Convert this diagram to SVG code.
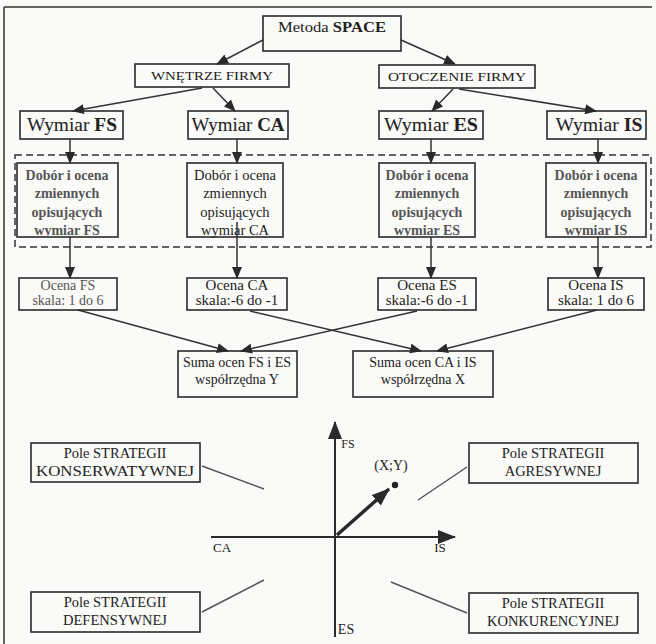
<svg xmlns="http://www.w3.org/2000/svg" width="656" height="644" viewBox="0 0 656 644">
<style>
.bg{fill:#fafaf8}
.box{fill:none;stroke:#2a2a2a;stroke-width:1.6}
.t{font-family:"Liberation Serif","Times New Roman",serif;fill:#222;text-anchor:middle}
.b{font-weight:bold}
.f{fill:#555}
.ln{stroke:#333;stroke-width:1.5;fill:none}
.gl{stroke:#555;stroke-width:1.5;fill:none}
</style>
<defs>
<marker id="ah" markerUnits="userSpaceOnUse" markerWidth="12" markerHeight="10" refX="11" refY="5" orient="auto">
<path d="M0,0 L12,5 L0,10 z" fill="#2a2a2a"/>
</marker>
<marker id="ahb" markerUnits="userSpaceOnUse" markerWidth="18" markerHeight="14" refX="17" refY="7" orient="auto">
<path d="M0,0 L18,7 L0,14 z" fill="#2a2a2a"/>
</marker>
</defs>
<rect class="bg" x="0" y="0" width="656" height="644"/>
<g id="frame">
<line x1="4" y1="7" x2="652" y2="7" stroke="#333" stroke-width="1.5"/>
<line x1="4" y1="7" x2="4" y2="644" stroke="#333" stroke-width="1.5"/>
<rect x="15" y="155" width="636" height="92" fill="none" stroke="#333" stroke-width="1.5" stroke-dasharray="7,4"/>
</g>
<g id="connectors">
<line class="ln" x1="263" y1="40" x2="217" y2="64" marker-end="url(#ah)"/>
<line class="ln" x1="401" y1="40" x2="455" y2="64" marker-end="url(#ah)"/>
<line class="ln" x1="202" y1="88" x2="73" y2="111" marker-end="url(#ah)"/>
<line class="ln" x1="213" y1="88" x2="235" y2="111" marker-end="url(#ah)"/>
<line class="ln" x1="453" y1="89" x2="432" y2="111" marker-end="url(#ah)"/>
<line class="ln" x1="459" y1="89" x2="596" y2="111" marker-end="url(#ah)"/>
<line class="ln" x1="70" y1="139" x2="70" y2="163" marker-end="url(#ah)"/>
<line class="ln" x1="237" y1="139" x2="237" y2="163" marker-end="url(#ah)"/>
<line class="ln" x1="431" y1="139" x2="431" y2="163" marker-end="url(#ah)"/>
<line class="ln" x1="598" y1="139" x2="598" y2="163" marker-end="url(#ah)"/>
<line class="ln" x1="70" y1="237" x2="70" y2="278" marker-end="url(#ah)"/>
<line class="ln" x1="237" y1="222" x2="237" y2="278" marker-end="url(#ah)"/>
<line class="ln" x1="431" y1="237" x2="431" y2="278" marker-end="url(#ah)"/>
<line class="ln" x1="598" y1="237" x2="598" y2="278" marker-end="url(#ah)"/>
<line class="ln" x1="78" y1="310" x2="228" y2="351" marker-end="url(#ah)"/>
<line class="ln" x1="250" y1="311" x2="421" y2="351" marker-end="url(#ah)"/>
<line class="ln" x1="417" y1="311" x2="241" y2="351" marker-end="url(#ah)"/>
<line class="ln" x1="597" y1="310" x2="437" y2="351" marker-end="url(#ah)"/>
<line class="gl" x1="202" y1="466" x2="264" y2="489"/>
<line class="gl" x1="467" y1="467" x2="418" y2="500"/>
<line class="gl" x1="202" y1="612" x2="264" y2="580"/>
<line class="gl" x1="467" y1="613" x2="391" y2="582"/>
</g>
<g id="metoda"><rect class="box" x="263" y="16" width="138" height="35"/><text class="t" x="332" y="32" font-size="15" textLength="108" lengthAdjust="spacingAndGlyphs">Metoda <tspan class="b">SPACE</tspan></text></g>
<g id="wnetrze"><rect class="box" x="135" y="64" width="154" height="23"/><text class="t" x="212" y="80" font-size="12.5" textLength="122" lengthAdjust="spacingAndGlyphs">WNĘTRZE FIRMY</text></g>
<g id="otoczenie"><rect class="box" x="379" y="65" width="156" height="23"/><text class="t" x="457" y="81" font-size="12.5" textLength="138" lengthAdjust="spacingAndGlyphs">OTOCZENIE FIRMY</text></g>
<g id="wymiar-fs"><rect class="box" x="20" y="111" width="103" height="28"/><text class="t" x="72" y="131" font-size="18" textLength="90" lengthAdjust="spacingAndGlyphs">Wymiar <tspan class="b">FS</tspan></text></g>
<g id="wymiar-ca"><rect class="box" x="188" y="111" width="100" height="28"/><text class="t" x="238" y="131" font-size="18" textLength="93" lengthAdjust="spacingAndGlyphs">Wymiar <tspan class="b">CA</tspan></text></g>
<g id="wymiar-es"><rect class="box" x="379" y="111" width="104" height="28"/><text class="t" x="431" y="131" font-size="18" textLength="94" lengthAdjust="spacingAndGlyphs">Wymiar <tspan class="b">ES</tspan></text></g>
<g id="wymiar-is"><rect class="box" x="547" y="111" width="99" height="28"/><text class="t" x="599" y="131" font-size="18" textLength="87" lengthAdjust="spacingAndGlyphs">Wymiar <tspan class="b">IS</tspan></text></g>
<g id="dobor-fs"><rect class="box" x="17" y="163" width="101" height="74"/>
<text class="t b f" font-size="14"><tspan x="67" y="180">Dobór i ocena</tspan><tspan x="67" y="198">zmiennych</tspan><tspan x="67" y="217">opisujących</tspan><tspan x="67" y="235">wymiar FS</tspan></text></g>
<g id="dobor-ca"><rect class="box" x="187" y="163" width="96" height="74"/>
<text class="t" font-size="14.5"><tspan x="235" y="180">Dobór i ocena</tspan><tspan x="235" y="198">zmiennych</tspan><tspan x="235" y="217">opisujących</tspan><tspan x="235" y="235">wymiar CA</tspan></text></g>
<g id="dobor-es"><rect class="box" x="379" y="163" width="96" height="74"/>
<text class="t b f" font-size="14"><tspan x="427" y="180">Dobór i ocena</tspan><tspan x="427" y="198">zmiennych</tspan><tspan x="427" y="217">opisujących</tspan><tspan x="427" y="235">wymiar ES</tspan></text></g>
<g id="dobor-is"><rect class="box" x="546" y="163" width="100" height="74"/>
<text class="t b f" font-size="14"><tspan x="596" y="180">Dobór i ocena</tspan><tspan x="596" y="198">zmiennych</tspan><tspan x="596" y="217">opisujących</tspan><tspan x="596" y="235">wymiar IS</tspan></text></g>
<g id="ocena-fs"><rect class="box" x="19" y="278" width="98" height="32"/>
<text class="t f" font-size="14"><tspan x="68" y="290">Ocena FS</tspan><tspan x="68" y="305">skala: 1 do 6</tspan></text></g>
<g id="ocena-ca"><rect class="box" x="187" y="278" width="100" height="32"/>
<text class="t" font-size="15"><tspan x="237" y="290">Ocena CA</tspan><tspan x="237" y="305">skala:-6 do -1</tspan></text></g>
<g id="ocena-es"><rect class="box" x="378" y="278" width="98" height="32"/>
<text class="t" font-size="15"><tspan x="427" y="290">Ocena ES</tspan><tspan x="427" y="305">skala:-6 do -1</tspan></text></g>
<g id="ocena-is"><rect class="box" x="548" y="278" width="96" height="32"/>
<text class="t" font-size="15"><tspan x="596" y="290">Ocena IS</tspan><tspan x="596" y="305">skala: 1 do 6</tspan></text></g>
<g id="suma-y"><rect class="box" x="178" y="351" width="119" height="46"/>
<text class="t" font-size="14"><tspan x="237" y="367">Suma ocen FS i ES</tspan><tspan x="237" y="384">współrzędna Y</tspan></text></g>
<g id="suma-x"><rect class="box" x="353" y="351" width="140" height="46"/>
<text class="t" font-size="14"><tspan x="423" y="367">Suma ocen CA i IS</tspan><tspan x="423" y="384">współrzędna X</tspan></text></g>
<g id="axes">
<line x1="335" y1="637" x2="335" y2="422" stroke="#2a2a2a" stroke-width="2" marker-end="url(#ahb)"/>
<line x1="211" y1="537" x2="455" y2="537" stroke="#2a2a2a" stroke-width="2" marker-end="url(#ahb)"/>
<line x1="337" y1="535" x2="389" y2="489" stroke="#2a2a2a" stroke-width="3.5" marker-end="url(#ahb)"/>
<circle cx="395" cy="485" r="3.2" fill="#222"/>
<text class="t" x="348" y="448" font-size="12">FS</text>
<text class="t" x="222" y="552" font-size="13">CA</text>
<text class="t" x="440" y="552" font-size="13">IS</text>
<text class="t" x="346" y="634" font-size="14">ES</text>
<text class="t" x="391" y="470" font-size="14">(X;Y)</text>
</g>
<g id="pole-kons"><rect class="box" x="31" y="443" width="169" height="39"/>
<text class="t" font-size="14.5"><tspan x="115" y="458">Pole STRATEGII</tspan><tspan x="115" y="476" textLength="158" lengthAdjust="spacingAndGlyphs">KONSERWATYWNEJ</tspan></text></g>
<g id="pole-agr"><rect class="box" x="469" y="443" width="169" height="40"/>
<text class="t" font-size="14.5"><tspan x="553" y="458">Pole STRATEGII</tspan><tspan x="553" y="476">AGRESYWNEJ</tspan></text></g>
<g id="pole-def"><rect class="box" x="31" y="592" width="169" height="40"/>
<text class="t" font-size="14.5"><tspan x="115" y="607">Pole STRATEGII</tspan><tspan x="115" y="625">DEFENSYWNEJ</tspan></text></g>
<g id="pole-konk"><rect class="box" x="469" y="593" width="169" height="40"/>
<text class="t" font-size="14.5"><tspan x="553" y="608">Pole STRATEGII</tspan><tspan x="553" y="626">KONKURENCYJNEJ</tspan></text></g>
</svg>
